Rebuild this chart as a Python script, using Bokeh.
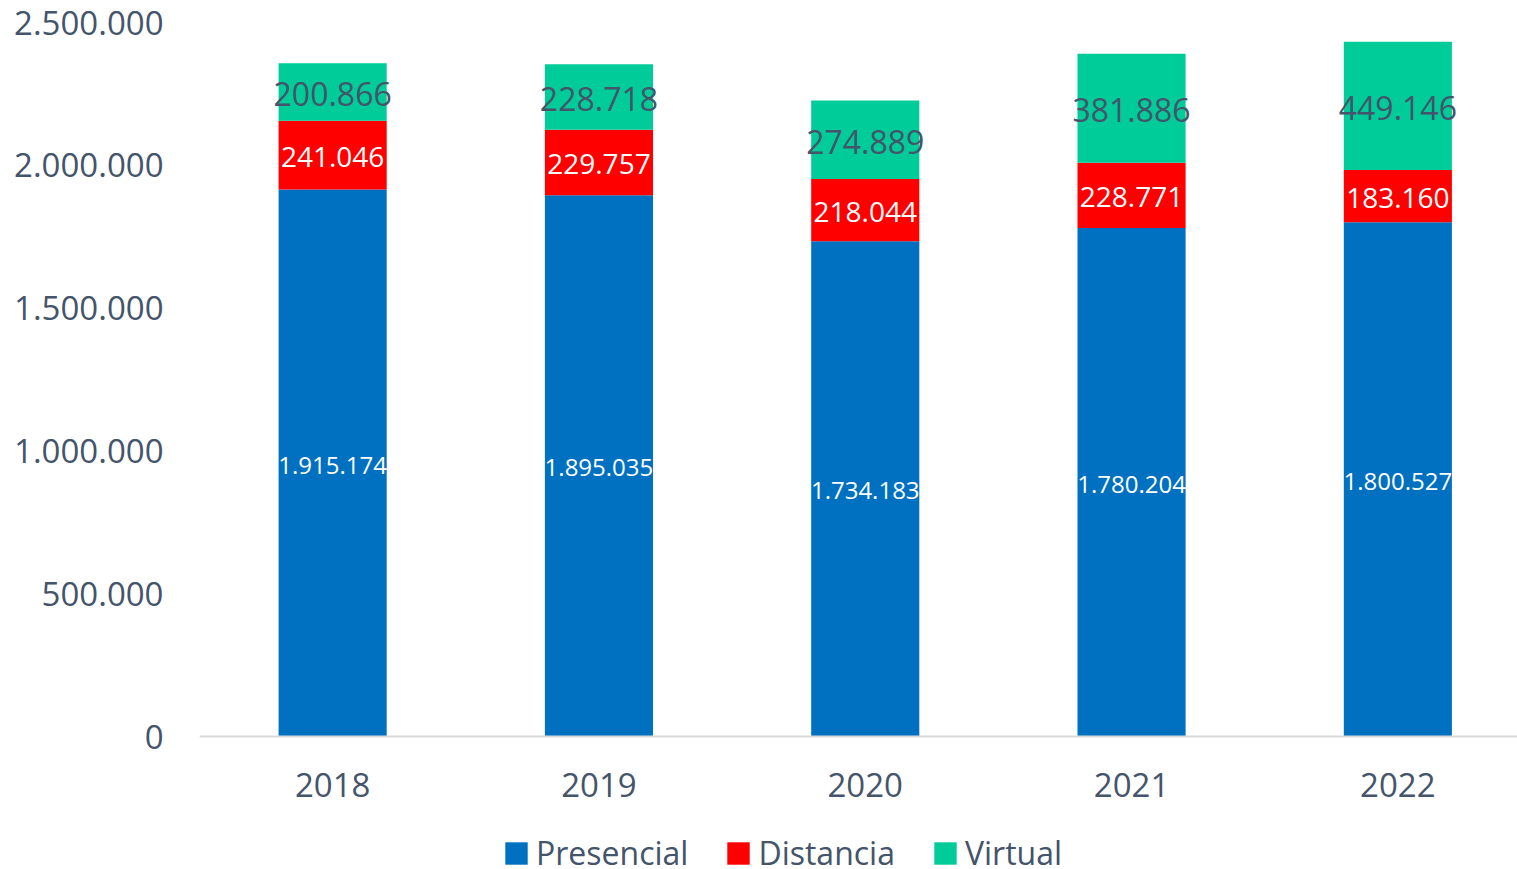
import numpy as np
from bokeh.plotting import figure
from bokeh.models import (ColumnDataSource, FixedTicker, LabelSet, Legend, LegendItem, Range1d,
                          Span)
from bokeh.core.properties import value
from bokeh.embed import file_html
from bokeh.resources import INLINE

years = ["2018", "2019", "2020", "2021", "2022"]
presencial = [1915174, 1895035, 1734183, 1780204, 1800527]
distancia = [241046, 229757, 218044, 228771, 183160]
virtual = [200866, 228718, 274889, 381886, 449146]
y_ticks = [0, 500000, 1000000, 1500000, 2000000, 2500000]

FONT = "Open Sans"
TXT = "#44546A"
C_PRES, C_DIST, C_VIRT = "#0070C0", "#FF0000", "#00CC99"


def fmt(v):
    return f"{v:,}".replace(",", ".")


x = list(range(len(years)))
pres = np.array(presencial)
dist = np.array(distancia)
virt = np.array(virtual)

src = ColumnDataSource(dict(
    x=x,
    base=[0] * len(years),
    year=years,
    presencial=presencial,
    distancia=distancia,
    virtual=virtual,
    y_pres=(pres / 2).tolist(),
    y_dist=(pres + dist / 2).tolist(),
    y_virt=(pres + dist + virt / 2).tolist(),
    t_pres=[fmt(v) for v in presencial],
    t_dist=[fmt(v) for v in distancia],
    t_virt=[fmt(v) for v in virtual],
))

# plot area: value axis 0..2.5M spans 714 px; the area below 0 (133 px) holds year labels + legend
PLOT_H, BELOW_H = 714, 133
y_top = y_ticks[-1]
y_bottom = -y_top * BELOW_H / PLOT_H

p = figure(frame_width=1318, frame_height=PLOT_H + BELOW_H, output_backend="svg",
           toolbar_location=None,
           min_border_left=199, min_border_right=0, min_border_top=22, min_border_bottom=0,
           x_range=Range1d(-0.5, -0.5 + 1318 / 266.3), y_range=Range1d(y_bottom, y_top))
p.outline_line_color = None
p.background_fill_color = "white"
p.border_fill_color = "white"
p.grid.visible = False

rs = p.vbar_stack(["presencial", "distancia", "virtual"], x="x", width=0.406, source=src,
                  color=[C_PRES, C_DIST, C_VIRT], line_color=None)

p.add_layout(Span(location=0, dimension="width", line_color="#D9D9D9", line_width=2))

p.add_layout(LabelSet(x="x", y="y_pres", text="t_pres", source=src, text_align="center",
                      text_baseline="middle", y_offset=-2, text_color="white",
                      text_font=value(FONT), text_font_size="24px"))
p.add_layout(LabelSet(x="x", y="y_dist", text="t_dist", source=src, text_align="center",
                      text_baseline="middle", y_offset=-2, text_color="white",
                      text_font=value(FONT), text_font_size="28px"))
p.add_layout(LabelSet(x="x", y="y_virt", text="t_virt", source=src, text_align="center",
                      text_baseline="middle", y_offset=-2, text_color=TXT,
                      text_font=value(FONT), text_font_size="32px"))

# category (year) labels under the baseline
p.add_layout(LabelSet(x="x", y="base", text="year", source=src, text_align="center",
                      text_baseline="middle", y_offset=-48, text_color=TXT,
                      text_font=value(FONT), text_font_size="33px"))
p.xaxis.visible = False

p.yaxis.ticker = FixedTicker(ticks=y_ticks)
p.yaxis.major_label_overrides = {t: fmt(t) for t in y_ticks}
p.yaxis.axis_line_color = None
p.yaxis.major_tick_line_color = None
p.yaxis.minor_tick_line_color = None
p.yaxis.major_label_text_font = FONT
p.yaxis.major_label_text_font_size = "33px"
p.yaxis.major_label_text_color = TXT
p.yaxis.major_label_standoff = 30

legend = Legend(items=[LegendItem(label="Presencial", renderers=[rs[0]]),
                       LegendItem(label="Distancia", renderers=[rs[1]]),
                       LegendItem(label="Virtual", renderers=[rs[2]])],
                orientation="horizontal", location=(303, -5))
legend.glyph_width = 28
legend.glyph_height = 28
legend.label_standoff = 6
legend.spacing = 36
legend.padding = 0
legend.margin = 0
legend.border_line_color = None
legend.background_fill_alpha = 0
legend.label_text_font = FONT
legend.label_text_font_size = "32px"
legend.label_text_color = TXT
legend.label_height = 30
p.add_layout(legend, "center")

open("out.html", "w").write(file_html(p, INLINE))
